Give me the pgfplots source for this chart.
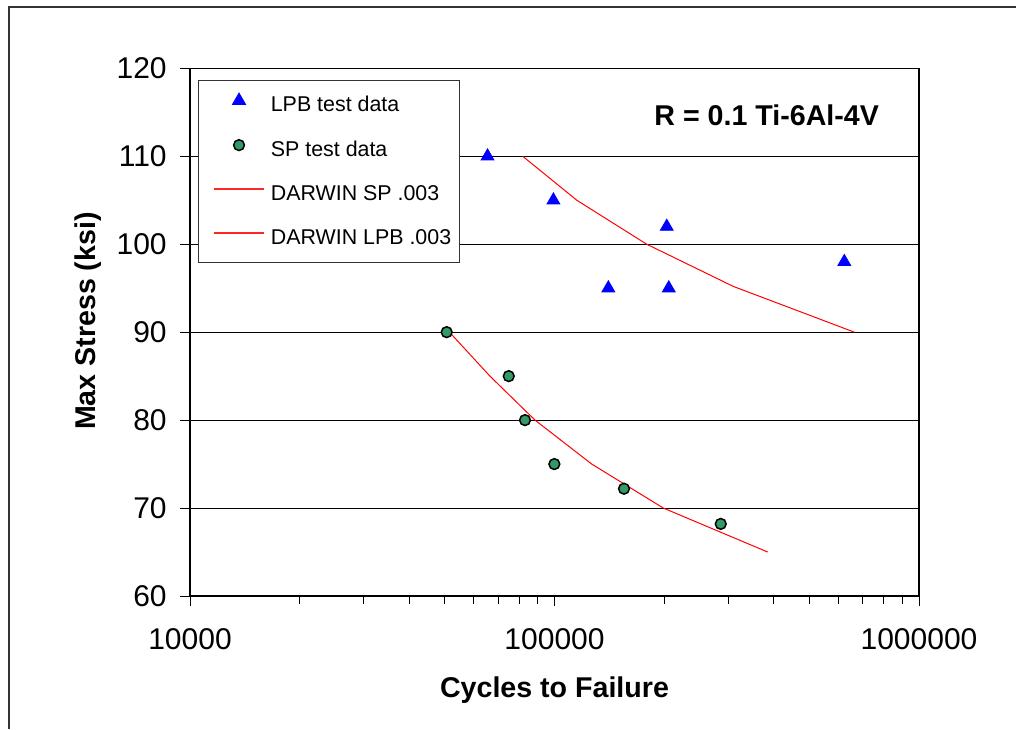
\documentclass[border=0pt]{standalone}
\usepackage{fontspec}
\setmainfont{Liberation Sans}
\usepackage{pgfplots}
\usepackage{pgfplotstable}
\pgfplotsset{compat=1.18}
\definecolor{spgreen}{HTML}{339966}

\pgfplotstableread{
x y
65500 110
99300 105
140500 95
203200 102
205800 95
623800 98
}\lpbdata

\pgfplotstableread{
x y
50600 90
74900 85
83000 80
99900 75
155100 72.2
285800 68.2
}\spdata

\pgfplotstableread{
x y
51500 90
66500 85
88400 80
126500 75
198900 70
384500 65
}\darwinsp

\pgfplotstableread{
x y
81800 110
115100 105
179000 100
309500 95.2
664500 90
}\darwinlpb

\pgfplotsset{
  myleg/.style={legend image code/.code={%
    \path (0pt,0pt);
    \draw[mark repeat=2,mark phase=2,##1] plot coordinates {(3.35pt,2.8pt) (15.85pt,2.8pt) (28.35pt,2.8pt)};}},
  mylegline/.style={legend image code/.code={%
    \path (0pt,0pt);
    \draw[red!85!white, line width=0.8pt] (3.35pt,2.8pt) -- (28.35pt,2.8pt);}}
}

\begin{document}
\begin{tikzpicture}
\path[use as bounding box] (0,0) rectangle (508pt,364.5pt);
\draw[line width=1pt, black!80] (4.25pt,0pt) -- (4.25pt,360.75pt) -- (508pt,360.75pt);
\begin{axis}[
  at={(95pt,66.5pt)}, anchor=south west,
  scale only axis, width=364.5pt, height=263.85pt,
  xmode=log, xmin=1e4, xmax=1e6, ymin=60, ymax=120,
  xtick={1e4,1e5,1e6}, xticklabels={10000,100000,1000000},
  minor xtick={2e4,3e4,4e4,5e4,6e4,7e4,8e4,9e4,2e5,3e5,4e5,5e5,6e5,7e5,8e5,9e5},
  ytick={60,70,80,90,100,110,120},
  tick align=outside, xtick pos=lower, ytick pos=left,
  major tick length=5pt, minor tick length=4pt,
  tick style={black, line width=0.5pt},
  axis line style={black, line width=0.75pt},
  ymajorgrids, major grid style={black, line width=0.5pt},
  /pgf/number format/assume math mode=true,
  ticklabel style={font=\fontsize{15}{17}\selectfont},
  yticklabel style={anchor=east, inner sep=0pt, xshift=-6.5pt},
  xticklabel style={anchor=north, inner sep=0pt, yshift=-11pt},
  xlabel={Cycles to Failure}, ylabel={Max Stress (ksi)},
  label style={font=\bfseries\fontsize{14.3}{16}\selectfont},
  xlabel style={at={(axis description cs:0.5,-0.1914)}, anchor=base},
  ylabel style={at={(axis description cs:-0.13,0.521)}, anchor=base},
  legend style={at={(rel axis cs:0.0114,0.978)}, anchor=north west,
    draw=black!80, line width=0.5pt, inner xsep=4pt, inner ysep=6.4pt,
    font=\fontsize{10.7}{12}\selectfont, row sep=11.5pt, column sep=3pt,
    nodes={inner sep=0pt, text height=8pt, text depth=2.5pt}},
  legend cell align=left,
]
\addplot[only marks, mark=triangle*, mark size=3.7pt, color=blue, myleg] table {\lpbdata};
\addlegendentry{LPB test data}
\addplot[only marks, mark=*, mark size=2.7pt, draw=black, fill=spgreen, mark options={line width=0.75pt}, myleg] table {\spdata};
\addlegendentry{SP test data}
\addplot[draw=red, line width=0.5pt, mark=none, mylegline] table {\darwinsp};
\addlegendentry{DARWIN SP .003}
\addplot[draw=red, line width=0.5pt, mark=none, mylegline] table {\darwinlpb};
\addlegendentry{DARWIN LPB .003}
\node[font=\bfseries\fontsize{14.3}{16}\selectfont] at (rel axis cs:0.791,0.9115) {R = 0.1 Ti-6Al-4V};
\end{axis}
\end{tikzpicture}
\end{document}
